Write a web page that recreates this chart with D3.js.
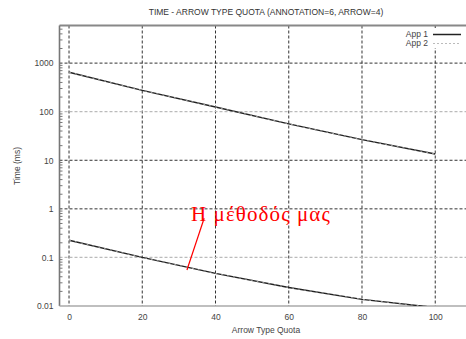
<!DOCTYPE html>
<html>
<head>
<meta charset="utf-8">
<script src="https://cdn.jsdelivr.net/npm/d3@7"></script>
<style>
  body { margin: 0; background: #fff; }
  svg { font-family: "Liberation Sans", Arial, sans-serif; }
</style>
</head>
<body>
<svg width="466" height="339"></svg>
<script>
var quota = [0, 20, 40, 60, 80, 100];
var app1Upper = [650, 275, 125, 56, 26.6, 13.5];
var app2Upper = [650, 275, 125, 56, 26.6, 13.5];
var app1Lower = [0.226, 0.1, 0.047, 0.024, 0.0137, 0.0093];
var app2Lower = [0.226, 0.1, 0.047, 0.024, 0.0137, 0.0093];
var xTicks = [0, 20, 40, 60, 80, 100];
var yTicks = [0.01, 0.1, 1, 10, 100, 1000];
var yTickLabels = ["0.01", "0.1", "1", "10", "100", "1000"];
var darkGrid = [1, 10, 1000];
var lightGrid = [0.1, 100];

var svg = d3.select("svg"),
    margin = {top: 25.5, right: 0, bottom: 33, left: 59.5},
    width = +svg.attr("width") - margin.left - margin.right,
    height = +svg.attr("height") - margin.top - margin.bottom;

var x = d3.scaleLinear().domain([-2.6, 108.4]).range([margin.left, margin.left + width]);
var y = d3.scaleLog().domain([0.01, 5950]).range([margin.top + height, margin.top]);

var defs = svg.append("defs");
defs.append("clipPath").attr("id", "clip")
  .append("rect")
    .attr("x", margin.left).attr("y", margin.top)
    .attr("width", width).attr("height", height);

// grid
var grid = svg.append("g");
grid.selectAll("line.v")
  .data(xTicks)
  .enter().append("line")
    .attr("x1", function(d) { return x(d); })
    .attr("x2", function(d) { return x(d); })
    .attr("y1", margin.top)
    .attr("y2", margin.top + height)
    .attr("stroke", "#333")
    .attr("stroke-width", 1)
    .attr("stroke-dasharray", "3,2");

grid.selectAll("line.dk")
  .data(darkGrid)
  .enter().append("line")
    .attr("x1", margin.left)
    .attr("x2", margin.left + width)
    .attr("y1", function(d) { return y(d); })
    .attr("y2", function(d) { return y(d); })
    .attr("stroke", "#333")
    .attr("stroke-width", 1)
    .attr("stroke-dasharray", "3,2");

grid.selectAll("line.lt")
  .data(lightGrid)
  .enter().append("line")
    .attr("x1", margin.left)
    .attr("x2", margin.left + width)
    .attr("y1", function(d) { return y(d); })
    .attr("y2", function(d) { return y(d); })
    .attr("stroke", "#bbb")
    .attr("stroke-width", 1.2)
    .attr("stroke-dasharray", "3,2");

// axes
var yAxis = d3.axisLeft(y).tickValues(yTicks).tickSize(0).tickPadding(6)
    .tickFormat(function(d, i) { return yTickLabels[i]; });
var gy = svg.append("g")
    .attr("transform", "translate(" + margin.left + ",0)")
    .call(yAxis);
gy.select(".domain").remove();
gy.selectAll("text").attr("font-size", 8.5).attr("fill", "#444");

var minor = [];
for (var e = -2; e < 4; e++) for (var m = 2; m < 10; m++) {
  var v = m * Math.pow(10, e);
  if (v < 5950) minor.push(v);
}
svg.append("g").selectAll("line")
  .data(minor)
  .enter().append("line")
    .attr("x1", margin.left)
    .attr("x2", margin.left + 3)
    .attr("y1", function(d) { return y(d); })
    .attr("y2", function(d) { return y(d); })
    .attr("stroke", "#777");

var xAxis = d3.axisBottom(x).tickValues(xTicks).tickSize(0).tickPadding(8);
var gx = svg.append("g")
    .attr("transform", "translate(0," + (margin.top + height) + ")")
    .call(xAxis);
gx.select(".domain").remove();
gx.selectAll("text").attr("font-size", 8.5).attr("fill", "#444");

// frame
svg.append("line")
    .attr("x1", margin.left).attr("x2", margin.left + width)
    .attr("y1", margin.top).attr("y2", margin.top)
    .attr("stroke", "#888").attr("stroke-width", 2);
svg.append("line")
    .attr("x1", margin.left).attr("x2", margin.left)
    .attr("y1", margin.top).attr("y2", margin.top + height)
    .attr("stroke", "#777").attr("stroke-width", 1.6);
svg.append("line")
    .attr("x1", margin.left).attr("x2", margin.left + width)
    .attr("y1", margin.top + height).attr("y2", margin.top + height)
    .attr("stroke", "#aaa").attr("stroke-width", 1.6);

// series
var line = d3.line()
    .x(function(d) { return x(d[0]); })
    .y(function(d) { return y(d[1]); });

var plot = svg.append("g").attr("clip-path", "url(#clip)");
function drawPair(a1, a2) {
  plot.append("path")
      .datum(quota.map(function(q, i) { return [q, a1[i]]; }))
      .attr("fill", "none")
      .attr("stroke", "#222")
      .attr("stroke-width", 1.4)
      .attr("d", line);
  plot.append("path")
      .datum(quota.map(function(q, i) { return [q, a2[i]]; }))
      .attr("fill", "none")
      .attr("stroke", "#999")
      .attr("stroke-width", 1.1)
      .attr("stroke-dasharray", "2,4")
      .attr("d", line);
}
drawPair(app1Upper, app2Upper);
drawPair(app1Lower, app2Lower);

// legend
var legend = svg.append("g");
legend.append("rect")
    .attr("x", 395).attr("y", 28)
    .attr("width", 71).attr("height", 20)
    .attr("fill", "#fff");
var legendData = [
  {name: "App 1", color: "#222", dash: null, w: 1.5},
  {name: "App 2", color: "#bbb", dash: "2,2", w: 1.2}
];
var li = legend.selectAll("g")
  .data(legendData)
  .enter().append("g")
    .attr("transform", function(d, i) { return "translate(0," + (34.5 + i * 9) + ")"; });
li.append("text")
    .attr("x", 428)
    .attr("dy", "0.32em")
    .attr("text-anchor", "end")
    .attr("font-size", 8.5)
    .attr("fill", "#444")
    .text(function(d) { return d.name; });
li.append("line")
    .attr("x1", 433).attr("x2", 461)
    .attr("stroke", function(d) { return d.color; })
    .attr("stroke-width", function(d) { return d.w; })
    .attr("stroke-dasharray", function(d) { return d.dash; });

// titles
svg.append("text")
    .attr("x", 266).attr("y", 15)
    .attr("text-anchor", "middle")
    .attr("font-size", 8.5)
    .attr("fill", "#333")
    .text("TIME - ARROW TYPE QUOTA (ANNOTATION=6, ARROW=4)");
svg.append("text")
    .attr("x", 266).attr("y", 333)
    .attr("text-anchor", "middle")
    .attr("font-size", 8.5)
    .attr("fill", "#444")
    .text("Arrow Type Quota");
svg.append("text")
    .attr("transform", "translate(20,166) rotate(-90)")
    .attr("text-anchor", "middle")
    .attr("font-size", 8.5)
    .attr("fill", "#444")
    .text("Time (ms)");

// annotation
svg.append("line")
    .attr("x1", x(36.9)).attr("y1", y(0.64))
    .attr("x2", x(32.2)).attr("y2", y(0.055))
    .attr("stroke", "red")
    .attr("stroke-width", 1.2);
svg.append("text")
    .attr("x", x(33.3)).attr("y", 221)
    .attr("font-family", "'Liberation Serif', 'Times New Roman', serif")
    .attr("font-size", 21)
    .attr("letter-spacing", 1.1)
    .attr("fill", "red")
    .text("Η μέθοδός μας");
</script>
</body>
</html>
